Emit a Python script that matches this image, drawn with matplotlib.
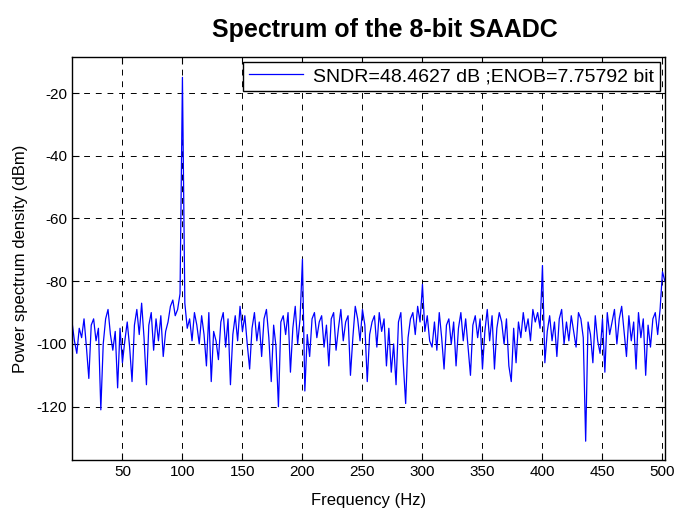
import numpy as np
import matplotlib
matplotlib.use("Agg")
import matplotlib.pyplot as plt

plt.rcParams["font.family"] = ["Liberation Sans", "DejaVu Sans"]
plt.rcParams["axes.unicode_minus"] = False

# frequency bins (Hz) and power spectrum density (dBm)
freqs = np.arange(8, 503, 2)
psd = [
    -93, -99, -103, -95, -98, -92, -101, -111, -94, -92,
    -99, -95, -121, -100, -92, -89, -97, -102, -96, -114,
    -95, -106, -99, -93, -101, -112, -94, -89, -97, -87,
    -98, -113, -94, -90, -102, -92, -99, -91, -104, -96,
    -93, -88, -86, -91, -89, -84, -15, -87, -95, -92,
    -99, -90, -94, -100, -91, -97, -107, -90, -112, -96,
    -99, -105, -93, -90, -101, -92, -113, -97, -91, -99,
    -88, -96, -91, -100, -108, -95, -90, -99, -93, -104,
    -92, -89, -98, -112, -94, -101, -120, -93, -91, -97,
    -90, -109, -95, -88, -100, -92, -73, -115, -97, -104,
    -92, -90, -98, -93, -91, -101, -94, -107, -92, -90,
    -102, -95, -89, -99, -93, -91, -110, -98, -88, -92,
    -99, -89, -94, -112, -97, -93, -91, -101, -90, -96,
    -92, -107, -95, -109, -100, -113, -93, -90, -106, -119,
    -98, -92, -90, -97, -88, -93, -81, -96, -91, -99,
    -101, -93, -102, -90, -98, -108, -94, -92, -100, -93,
    -107, -95, -90, -99, -92, -101, -110, -94, -91, -98,
    -92, -108, -96, -89, -99, -91, -108, -95, -90, -93,
    -100, -92, -107, -112, -95, -106, -93, -98, -90, -96,
    -92, -99, -89, -93, -90, -95, -75, -106, -96, -91,
    -99, -93, -104, -92, -89, -100, -93, -99, -91, -96,
    -101, -90, -92, -98, -131, -93, -97, -106, -91, -99,
    -103, -92, -109, -90, -97, -93, -89, -100, -92, -88,
    -96, -104, -91, -99, -93, -108, -90, -98, -92, -110,
    -94, -101, -92, -90, -97, -89, -77, -80,
]
xticks = [50, 100, 150, 200, 250, 300, 350, 400, 450, 500]
yticks = [-120, -100, -80, -60, -40, -20]
legend_label = "SNDR=48.4627 dB ;ENOB=7.75792 bit"

fig = plt.figure(figsize=(6.75, 5.13), dpi=100, facecolor="white")
ax = fig.add_axes([0.1067, 0.1033, 0.8783, 0.7857])

ax.plot(freqs, psd, color="#0000ff", lw=0.9, label=legend_label)

ax.set_xlim(8, 502)
ax.set_ylim(-137, -8.5)
ax.set_xticks(xticks)
ax.set_yticks(yticks)
ax.grid(True, color="black", linestyle=(0, (6, 6)), linewidth=0.7)
ax.tick_params(direction="in", top=True, right=True, length=5, labelsize=11)
for s in ax.spines.values():
    s.set_linewidth(1.0)

ax.set_xlabel("Frequency (Hz)", fontsize=12, labelpad=10)
ax.set_ylabel("Power spectrum density (dBm)", fontsize=12, labelpad=6)
ax.set_title("Spectrum of the 8-bit SAADC", fontsize=18, fontweight="bold",
             pad=14, x=0.528)

leg = ax.legend(loc="upper right", fontsize=14, fancybox=False, framealpha=1,
                edgecolor="black", handlelength=2.8, borderaxespad=0.25,
                borderpad=0.3, handletextpad=0.5)
leg.get_frame().set_linewidth(1.0)

plt.savefig("out.png", dpi=100)
